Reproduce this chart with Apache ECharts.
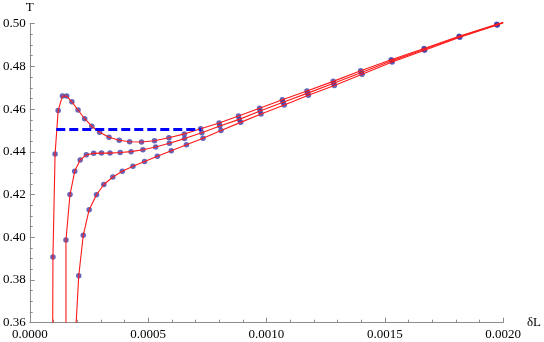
<!DOCTYPE html>
<html><head><meta charset="utf-8">
<script src="https://cdn.jsdelivr.net/npm/echarts@6/dist/echarts.min.js"></script>
<style>html,body{margin:0;padding:0;background:#fff}#c{width:544px;height:342px}</style>
</head><body><div id="c"></div>
<script>
// tick labels
const xTicks = [0, 0.0005, 0.0010, 0.0015, 0.0020];
const yTicks = [0.36, 0.38, 0.40, 0.42, 0.44, 0.46, 0.48, 0.50];

// curve A (top, with the peak)
const dL_A = [0.000098, 0.000107, 0.000120, 0.000138, 0.000156, 0.000178, 0.000204, 0.000232, 0.000262, 0.000295, 0.000335, 0.000378, 0.000422, 0.000472, 0.000527, 0.000588, 0.000653, 0.000722, 0.000800, 0.000882, 0.000971, 0.001067, 0.001171, 0.001282, 0.001398, 0.001527, 0.001666, 0.001814, 0.001973];
const T_A  = [0.3908, 0.4390, 0.4593, 0.4661, 0.4661, 0.4634, 0.4596, 0.4555, 0.4520, 0.4492, 0.4468, 0.4454, 0.4447, 0.4446, 0.4452, 0.4466, 0.4484, 0.4508, 0.4535, 0.4568, 0.4604, 0.4644, 0.4685, 0.4730, 0.4780, 0.4831, 0.4884, 0.4941, 0.4997];
// curve B (middle)
const dL_B = [0.000153, 0.000170, 0.000190, 0.000213, 0.000239, 0.000270, 0.000303, 0.000339, 0.000382, 0.000428, 0.000478, 0.000532, 0.000590, 0.000654, 0.000727, 0.000803, 0.000885, 0.000973, 0.001070, 0.001174, 0.001284, 0.001401, 0.001529, 0.001667, 0.001815, 0.001974];
const T_B  = [0.3987, 0.4200, 0.4309, 0.4362, 0.4386, 0.4393, 0.4394, 0.4394, 0.4397, 0.4401, 0.4410, 0.4423, 0.4440, 0.4462, 0.4489, 0.4521, 0.4552, 0.4591, 0.4632, 0.4675, 0.4721, 0.4771, 0.4826, 0.4880, 0.4939, 0.4995];
// curve C (bottom)
const dL_C = [0.000207, 0.000226, 0.000251, 0.000282, 0.000313, 0.000351, 0.000391, 0.000436, 0.000485, 0.000539, 0.000598, 0.000662, 0.000732, 0.000808, 0.000891, 0.000977, 0.001075, 0.001177, 0.001287, 0.001404, 0.001531, 0.001668, 0.001817, 0.001975];
const T_C  = [0.3820, 0.4009, 0.4129, 0.4199, 0.4247, 0.4282, 0.4309, 0.4332, 0.4355, 0.4379, 0.4405, 0.4433, 0.4464, 0.4500, 0.4538, 0.4577, 0.4619, 0.4665, 0.4711, 0.4763, 0.4821, 0.4876, 0.4937, 0.4994];

// where each line leaves the bottom axis (T = 0.36) and where it ends on the right
const startDL = [0.000097, 0.000153, 0.000196];
const startT = 0.36;
const endDL = [0.0020, 0.0020, 0.0020];
const endT  = [0.5006, 0.5005, 0.5004];

// dashed horizontal line (equal-area construction)
const dashDL = [0.000112, 0.000724];
const dashT = 0.4505;

const FONT = 'Liberation Serif';
const AXC = '#8c8c8c';

function pts(xs, ys){ return xs.map((x,i)=>[x, ys[i]]); }
const curves = [[dL_A,T_A],[dL_B,T_B],[dL_C,T_C]];

const series = [];
curves.forEach((c,k)=>{
  const p = pts(c[0], c[1]);
  series.push({
    type:'scatter', data:p, symbol:'circle', symbolSize:5.5,
    itemStyle:{color:'#3f3fa8'}, z:2, silent:true, clip:false
  });
  series.push({
    type:'line', data:[[startDL[k], startT]].concat(p, [[endDL[k], endT[k]]]),
    showSymbol:false, symbol:'none', lineStyle:{color:'#ff1a1a', width:1.1},
    z:3, silent:true, clip:false, animation:false
  });
});
series.push({
  type:'line', data:dashDL.map(x=>[x, dashT]), showSymbol:false, symbol:'none',
  lineStyle:{color:'#0000ff', width:3, type:[9,4]}, z:4, silent:true, animation:false
});

const chart = echarts.init(document.getElementById('c'), null, {renderer:'canvas'});
chart.setOption({
  animation:false,
  backgroundColor:'#fff',
  grid:{left:28.6, right:31, top:23.7, bottom:19.3, containLabel:false},
  xAxis:{
    type:'value', min:xTicks[0], max:xTicks[xTicks.length-1], interval:0.0005,
    name:'δL', nameLocation:'end', nameGap:3,
    nameTextStyle:{fontFamily:FONT, fontSize:13, color:'#000', align:'left', verticalAlign:'middle'},
    axisLine:{show:true, onZero:false, lineStyle:{color:AXC, width:1}},
    axisTick:{show:true, inside:true, length:5, lineStyle:{color:AXC}},
    minorTick:{show:true, splitNumber:5, length:3, lineStyle:{color:AXC}},
    splitLine:{show:false}, minorSplitLine:{show:false},
    axisLabel:{showMinLabel:true, showMaxLabel:true, formatter:v=>v.toFixed(4), fontFamily:FONT, fontSize:13, color:'#000', margin:5}
  },
  yAxis:{
    type:'value', min:yTicks[0], max:yTicks[yTicks.length-1], interval:0.02,
    name:'T', nameLocation:'end', nameGap:10,
    nameTextStyle:{fontFamily:FONT, fontSize:13, color:'#000', align:'center'},
    axisLine:{show:true, onZero:false, lineStyle:{color:AXC, width:1}},
    axisTick:{show:true, inside:true, length:5, lineStyle:{color:AXC}},
    minorTick:{show:true, splitNumber:4, length:3, lineStyle:{color:AXC}},
    splitLine:{show:false}, minorSplitLine:{show:false},
    axisLabel:{showMinLabel:true, showMaxLabel:true, formatter:v=>v.toFixed(2), fontFamily:FONT, fontSize:13, color:'#000', margin:4}
  },
  series:series
});
</script></body></html>
